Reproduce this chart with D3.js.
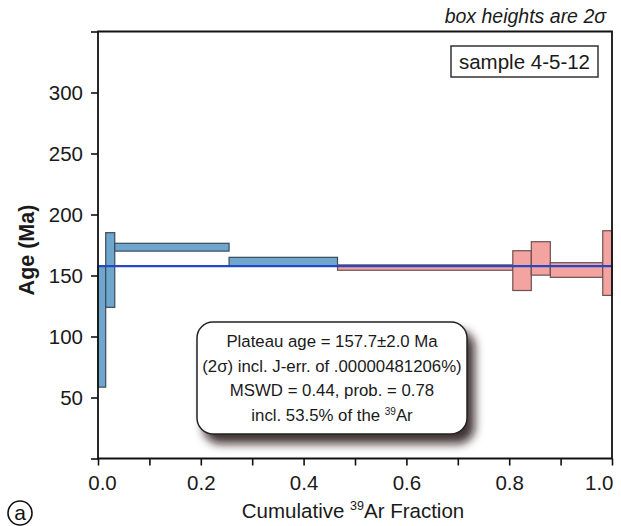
<!DOCTYPE html>
<html>
<head>
<meta charset="utf-8">
<script src="https://cdn.jsdelivr.net/npm/d3@7"></script>
<style>
  html, body { margin: 0; padding: 0; background: #fff; }
  svg { display: block; font-family: "Liberation Sans", Arial, Helvetica, sans-serif; }
</style>
</head>
<body>
<svg id="chart" width="621" height="526"></svg>
<script>
// 40Ar/39Ar step-heating spectrum, sample 4-5-12
const stepBounds = [0, 0.015, 0.0326, 0.255, 0.466, 0.807, 0.843, 0.88, 0.982, 1.0]; // cumulative 39Ar fraction
const stepAges   = [108, 154.5, 173.2, 161.4, 156.5, 154.0, 164.0, 154.5, 160.2];     // Ma
const stepErr2s  = [49.5, 30.6, 3.2, 3.5, 2.2, 16.3, 13.7, 6.0, 26.5];               // 2-sigma, Ma
const inPlateau  = [false, false, false, false, true, true, true, true, true];
const plateauAge = 157.7;
const xTicks = [0, 0.1, 0.2, 0.3, 0.4, 0.5, 0.6, 0.7, 0.8, 0.9, 1.0];
const xTickLabels = ["0.0", "", "0.2", "", "0.4", "", "0.6", "", "0.8", "", "1.0"];
const yTicks = [0, 50, 100, 150, 200, 250, 300, 350];
const yTickLabels = ["", "50", "100", "150", "200", "250", "300", ""];
const infoLines = [
  "Plateau age = 157.7\u00b12.0 Ma",
  "(2\u03c3) incl. J-err. of .00000481206%)",
  "MSWD = 0.44, prob. = 0.78"
];

const svg = d3.select("#chart");
const pL = 98, pR = 612, pT = 31.5, pB = 458.5;

const x = d3.scaleLinear().domain([0, 1]).range([pL, pR]);
const y = d3.scaleLinear().domain([0, 350]).range([pB, pT]);

// drop shadow for the result box
const defs = svg.append("defs");
const f = defs.append("filter").attr("id", "shadow")
  .attr("x", "-20%").attr("y", "-20%").attr("width", "150%").attr("height", "160%");
f.append("feDropShadow").attr("dx", 7).attr("dy", 9).attr("stdDeviation", 5)
  .attr("flood-color", "#1a1010").attr("flood-opacity", 0.85);

// step boxes
const steps = stepAges.map((a, i) => ({
  x0: stepBounds[i], x1: stepBounds[i + 1], age: a, err: stepErr2s[i], plat: inPlateau[i]
}));
svg.append("g").selectAll("rect").data(steps).join("rect")
  .attr("x", d => x(d.x0))
  .attr("width", d => x(d.x1) - x(d.x0))
  .attr("y", d => y(d.age + d.err))
  .attr("height", d => y(d.age - d.err) - y(d.age + d.err))
  .attr("fill", d => d.plat ? "#f4a4a0" : "#6fa6cd")
  .attr("stroke", d => d.plat ? "#6e5050" : "#3c4a56")
  .attr("stroke-width", 1.2);

// plateau age line
svg.append("line")
  .attr("x1", x(0)).attr("x2", x(1))
  .attr("y1", y(plateauAge)).attr("y2", y(plateauAge))
  .attr("stroke", "#2448c4").attr("stroke-width", 2.2);

// axes
const yAxis = d3.axisLeft(y).tickValues(yTicks).tickSize(7).tickPadding(8)
  .tickFormat((d, i) => yTickLabels[i]);
const gy = svg.append("g").attr("transform", `translate(${pL},0)`).call(yAxis);
const xAxis = d3.axisBottom(x).tickValues(xTicks).tickSize(7).tickPadding(6)
  .tickFormat((d, i) => xTickLabels[i]);
const gx = svg.append("g").attr("transform", `translate(0,${pB})`).call(xAxis);

[gx, gy].forEach(g => {
  g.select(".domain").remove();
  g.selectAll("line").attr("stroke", "#111").attr("stroke-width", 1.6);
  g.selectAll("text").attr("font-size", 20.5).attr("fill", "#1a1a1a")
    .attr("font-family", "Liberation Sans, Arial, sans-serif");
});
gx.selectAll("text").attr("dy", "0.9em");
gx.selectAll(".tick").filter(d => d === 0).select("text").attr("dx", 4);
gx.selectAll(".tick").filter(d => d === 1).select("text").attr("text-anchor", "end").attr("dx", 1);

// frame
svg.append("path")
  .attr("d", `M${pL},${pB}V${pT}H${pR}V${pB}Z`)
  .attr("fill", "none").attr("stroke", "#111").attr("stroke-width", 1.8);

// axis titles
svg.append("text")
  .attr("transform", `translate(34,250) rotate(-90)`)
  .attr("text-anchor", "middle").attr("font-size", 21.5).attr("font-weight", "bold")
  .attr("fill", "#1a1a1a").text("Age (Ma)");

const xt = svg.append("text").attr("x", 353).attr("y", 518)
  .attr("text-anchor", "middle").attr("font-size", 20.5).attr("fill", "#1a1a1a");
xt.append("tspan").text("Cumulative ");
xt.append("tspan").attr("font-size", 12.5).attr("dy", -8).text("39");
xt.append("tspan").attr("dy", 8).text("Ar Fraction");

// note and sample label
svg.append("text").attr("x", 606).attr("y", 23).attr("text-anchor", "end")
  .attr("font-size", 19.5).attr("font-style", "italic").attr("fill", "#1a1a1a")
  .text("box heights are 2\u03c3");

svg.append("rect").attr("x", 451).attr("y", 46).attr("width", 147).attr("height", 31)
  .attr("fill", "#fff").attr("stroke", "#333").attr("stroke-width", 1.5);
svg.append("text").attr("x", 524.5).attr("y", 69)
  .attr("text-anchor", "middle").attr("font-size", 20.5).attr("fill", "#1a1a1a")
  .text("sample 4-5-12");

// plateau result box
const bx = 197, by = 322, bw = 270, bh = 112;
svg.append("rect").attr("x", bx).attr("y", by).attr("width", bw).attr("height", bh)
  .attr("rx", 16).attr("ry", 16)
  .attr("fill", "#fff").attr("stroke", "#222").attr("stroke-width", 1.5)
  .attr("filter", "url(#shadow)");

const cx = bx + bw / 2;
infoLines.forEach((t, i) => {
  svg.append("text").attr("x", cx).attr("y", by + 25 + i * 24.5)
    .attr("text-anchor", "middle").attr("font-size", 16.8).attr("fill", "#1a1a1a").text(t);
});
const last = svg.append("text").attr("x", cx).attr("y", by + 25 + 3 * 24.5)
  .attr("text-anchor", "middle").attr("font-size", 16.8).attr("fill", "#1a1a1a");
last.append("tspan").text("incl. 53.5% of the ");
last.append("tspan").attr("font-size", 10).attr("dy", -6).text("39");
last.append("tspan").attr("dy", 6).text("Ar");

// panel letter
svg.append("circle").attr("cx", 20).attr("cy", 513).attr("r", 12)
  .attr("fill", "none").attr("stroke", "#111").attr("stroke-width", 1.6);
svg.append("text").attr("x", 20).attr("y", 520).attr("text-anchor", "middle")
  .attr("font-size", 21).attr("fill", "#111").text("a");
</script>
</body>
</html>
